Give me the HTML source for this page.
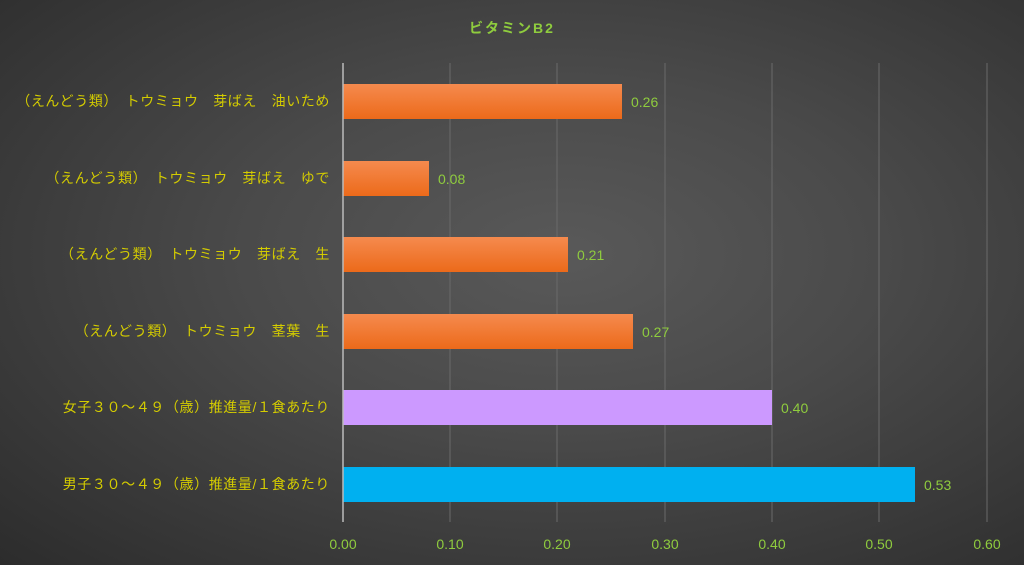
<!DOCTYPE html>
<html><head><meta charset="utf-8"><style>
html,body{margin:0;padding:0;width:1024px;height:565px;overflow:hidden}
body{background:radial-gradient(ellipse at 55% 45%,#595959 0%,#4a4a4a 40%,#2c2c2c 100%)}
text{font-family:"Liberation Sans","Noto Sans CJK JP",sans-serif}
</style></head><body>
<svg width="1024" height="565" xmlns="http://www.w3.org/2000/svg">
<defs>
<linearGradient id="og" x1="0" y1="0" x2="0" y2="1"><stop offset="0" stop-color="#f58a4e"/><stop offset="1" stop-color="#ec6a1a"/></linearGradient>
</defs>
<text x="512" y="33" text-anchor="middle" fill="#8fcc3e" font-size="14" font-weight="bold" letter-spacing="2">ビタミンB2</text>
<g stroke="#6a6a6a" stroke-width="1">
<line x1="450" y1="63" x2="450" y2="522"/><line x1="557" y1="63" x2="557" y2="522"/>
<line x1="665" y1="63" x2="665" y2="522"/><line x1="772" y1="63" x2="772" y2="522"/>
<line x1="879" y1="63" x2="879" y2="522"/><line x1="987" y1="63" x2="987" y2="522"/>
</g>
<g>
<rect x="343" y="84" width="279" height="35" fill="url(#og)"/>
<rect x="343" y="161" width="86" height="35" fill="url(#og)"/>
<rect x="343" y="237" width="225" height="35" fill="url(#og)"/>
<rect x="343" y="314" width="290" height="35" fill="url(#og)"/>
<rect x="343" y="390" width="429" height="35" fill="#cc99ff"/>
<rect x="343" y="467" width="572" height="35" fill="#00b0f0"/>
</g>
<line x1="343" y1="63" x2="343" y2="522" stroke="#bbbbbb" stroke-width="1.5"/>
<g fill="#8fcc3e" font-size="14">
<text x="631" y="107">0.26</text><text x="438" y="184">0.08</text>
<text x="577" y="260">0.21</text><text x="642" y="337">0.27</text>
<text x="781" y="413">0.40</text><text x="924" y="490">0.53</text>
</g>
<g fill="#d4cc00" font-size="14" text-anchor="end" letter-spacing="0.6">
<text x="330" y="106">（えんどう類）　トウミョウ　芽ばえ　油いため</text>
<text x="330" y="183">（えんどう類）　トウミョウ　芽ばえ　ゆで</text>
<text x="330" y="259">（えんどう類）　トウミョウ　芽ばえ　生</text>
<text x="330" y="336">（えんどう類）　トウミョウ　茎葉　生</text>
<text x="330" y="412">女子３０～４９（歳）推進量/１食あたり</text>
<text x="330" y="489">男子３０～４９（歳）推進量/１食あたり</text>
</g>
<g fill="#8fcc3e" font-size="14" text-anchor="middle">
<text x="343" y="549">0.00</text><text x="450" y="549">0.10</text><text x="557" y="549">0.20</text>
<text x="665" y="549">0.30</text><text x="772" y="549">0.40</text><text x="879" y="549">0.50</text>
<text x="987" y="549">0.60</text>
</g>
</svg>
</body></html>
